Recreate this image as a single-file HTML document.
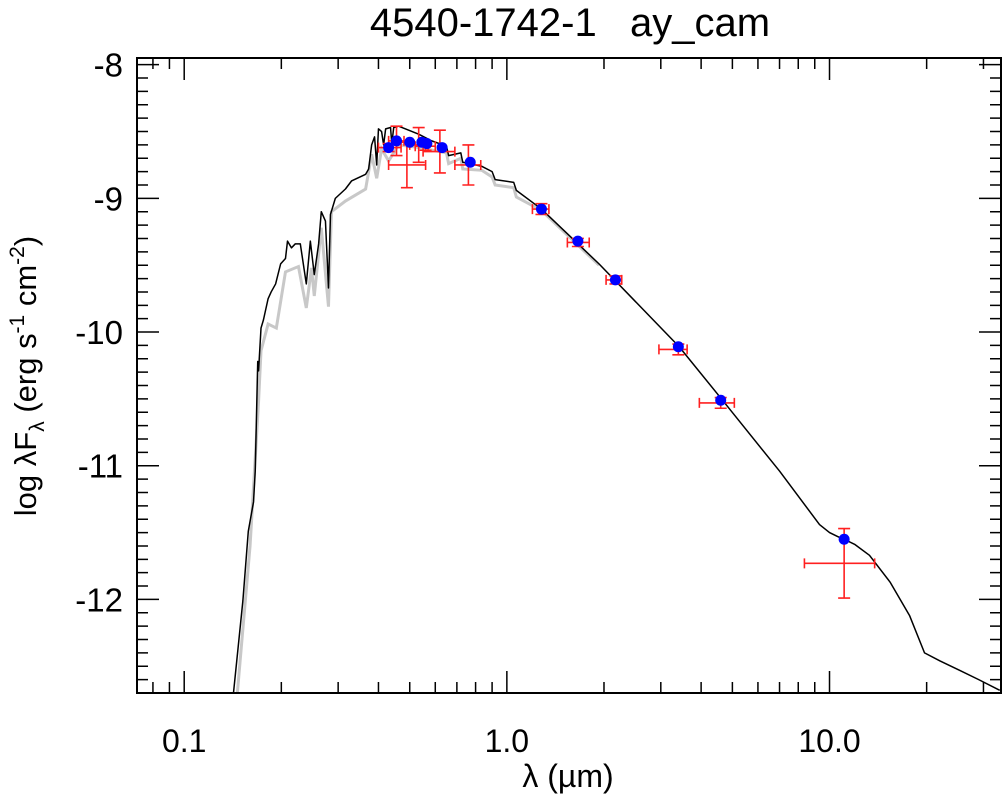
<!DOCTYPE html>
<html><head><meta charset="utf-8"><style>
html,body{margin:0;padding:0;background:#fff;}
svg{display:block;font-family:"Liberation Sans",Arial,sans-serif;}
</style></head><body>
<svg id="chart" width="1006" height="801" viewBox="0 0 1006 801">
<text x="570" y="36" font-size="40" text-anchor="middle" style="white-space:pre">4540-1742-1   ay_cam</text>
<text x="568" y="787" font-size="32" text-anchor="middle">λ (µm)</text>
<text transform="translate(36,376) rotate(-90)" font-size="31" text-anchor="middle">log λF<tspan font-size="21" dy="8">λ</tspan><tspan dy="-8"> (erg s</tspan><tspan font-size="21" dy="-12">-1</tspan><tspan dy="12"> cm</tspan><tspan font-size="21" dy="-12">-2</tspan><tspan dy="12">)</tspan></text>
<g id="plot"></g>
</svg>
<script>
const modelLam=[0.142,0.152,0.158,0.164,0.166,0.169,0.170,0.173,0.176,0.182,0.186,0.192,0.199,0.206,0.209,0.215,0.221,0.229,0.239,0.246,0.253,0.261,0.266,0.274,0.280,0.284,0.294,0.316,0.330,0.365,0.373,0.381,0.389,0.395,0.400,0.409,0.415,0.421,0.436,0.440,0.446,0.462,0.533,0.585,0.65,0.66,0.72,0.73,0.836,0.9,0.92,1.05,1.07,1.28,1.93,3.42,4.59,7.0,9.31,10.0,10.6,11.1,12.0,13.3,15.4,17.7,19.7,22.0,25.3,29.0,33.7];
const modelFlux=[-12.71,-12.01,-11.49,-11.27,-11.04,-10.22,-10.29,-9.97,-9.91,-9.75,-9.70,-9.64,-9.49,-9.45,-9.32,-9.37,-9.34,-9.34,-9.64,-9.32,-9.57,-9.34,-9.10,-9.17,-9.67,-9.12,-9.00,-8.93,-8.87,-8.82,-8.78,-8.60,-8.54,-8.75,-8.48,-8.50,-8.60,-8.48,-8.47,-8.59,-8.47,-8.46,-8.52,-8.57,-8.61,-8.68,-8.66,-8.73,-8.76,-8.80,-8.86,-8.88,-8.94,-9.08,-9.49,-10.11,-10.49,-11.04,-11.44,-11.50,-11.53,-11.55,-11.59,-11.67,-11.87,-12.12,-12.40,-12.46,-12.53,-12.60,-12.68];
const grayLam=[0.146,0.160,0.170,0.173,0.182,0.193,0.206,0.226,0.239,0.248,0.253,0.266,0.280,0.286,0.316,0.365,0.381,0.395,0.409,0.430,0.462,0.533,0.65,0.66,0.72,0.73,0.836,0.9,0.92,1.05,1.07,1.28,1.93];
const grayFlux=[-12.71,-11.6,-10.52,-10.14,-9.94,-9.97,-9.55,-9.51,-9.82,-9.52,-9.73,-9.22,-9.81,-9.10,-9.02,-8.93,-8.67,-8.85,-8.63,-8.72,-8.60,-8.62,-8.66,-8.74,-8.70,-8.78,-8.79,-8.84,-8.90,-8.92,-8.99,-9.09,-9.50];
const obsLam=[0.430,0.455,0.49,0.533,0.56,0.62,0.76,1.28,1.66,2.17,3.4,4.6,11.1];
const obsFlux=[-8.62,-8.57,-8.75,-8.60,-8.61,-8.65,-8.75,-9.08,-9.33,-9.61,-10.13,-10.53,-11.73];
const obsLamLo=[0.40,0.43,0.43,0.50,0.52,0.55,0.69,1.20,1.54,2.03,2.96,3.95,8.36];
const obsLamHi=[0.47,0.48,0.56,0.57,0.60,0.69,0.83,1.35,1.80,2.27,3.62,5.07,13.8];
const obsFluxErr=[0.03,0.11,0.17,0.13,0.03,0.16,0.15,0.04,0.03,0.03,0.04,0.04,0.26];
const synLam=[0.43,0.455,0.50,0.545,0.565,0.63,0.77,1.28,1.66,2.17,3.4,4.6,11.1];
const synFlux=[-8.62,-8.57,-8.58,-8.58,-8.59,-8.62,-8.73,-9.08,-9.32,-9.61,-10.11,-10.51,-11.55];
const yTicks=[-8,-9,-10,-11,-12];
const yTickLabels=["-8","-9","-10","-11","-12"];
const xTicks=[0.1,1,10];
const xTickLabels=["0.1","1.0","10.0"];

const L=137,R=1001,T=58,B=693;
const xMin=0.0714,xMax=34.0,yMin=-12.70,yMax=-7.95;
const X=v=>L+(Math.log10(v)-Math.log10(xMin))/(Math.log10(xMax)-Math.log10(xMin))*(R-L);
const Y=v=>B-(v-yMin)/(yMax-yMin)*(B-T);
const NS="http://www.w3.org/2000/svg";
const g=document.getElementById('plot');
function mk(t,a){const e=document.createElementNS(NS,t);for(const k in a)e.setAttribute(k,a[k]);g.appendChild(e);return e;}

const cp=document.createElementNS(NS,'clipPath');cp.setAttribute('id','clip');
const cr=document.createElementNS(NS,'rect');cr.setAttribute('x',L);cr.setAttribute('y',T);cr.setAttribute('width',R-L);cr.setAttribute('height',B-T);
cp.appendChild(cr);g.appendChild(cp);

const gp=mk('polyline',{points:grayLam.map((v,i)=>X(v)+','+Y(grayFlux[i])).join(' '),fill:'none',stroke:'#c8c8c8','stroke-width':3,'clip-path':'url(#clip)'});


const bp=mk('polyline',{points:modelLam.map((v,i)=>X(v)+','+Y(modelFlux[i])).join(' '),fill:'none',stroke:'#000','stroke-width':1.5,'stroke-linejoin':'round','clip-path':'url(#clip)'});



obsLam.forEach((v,i)=>{
  const x=X(v),y=Y(obsFlux[i]),x1=X(obsLamLo[i]),x2=X(obsLamHi[i]),y1=Y(obsFlux[i]+obsFluxErr[i]),y2=Y(obsFlux[i]-obsFluxErr[i]);
  const d=`M${x1},${y}H${x2}M${x1},${y-5}V${y+5}M${x2},${y-5}V${y+5}M${x},${y1}V${y2}M${x-6},${y1}H${x+6}M${x-6},${y2}H${x+6}`;
  const e=mk('path',{d:d,stroke:'#ff2020','stroke-width':1.6,fill:'none'});
  
  
});
synLam.forEach((v,i)=>{
  const c=mk('circle',{cx:X(v),cy:Y(synFlux[i]),r:5.5,fill:'#0000ff'});
  
  
});

const fr=mk('rect',{x:L,y:T,width:R-L,height:B-T,fill:'none',stroke:'#000','stroke-width':2});



let td='';
for(let k=-13;k<=-8;k++){for(let m=0;m<10;m++){const v=k+m/10;if(v<yMin||v>yMax)continue;const y=Y(v);const len=m===0?22:11;td+=`M${L},${y}h${len}M${R},${y}h${-len}`;}}
for(let e=-2;e<=1;e++){for(let m=1;m<10;m++){const v=m*Math.pow(10,e);if(v<xMin||v>xMax)continue;const x=X(v);const len=m===1?22:11;td+=`M${x},${B}v${-len}M${x},${T}v${len}`;}}
const tk=mk('path',{d:td,stroke:'#000','stroke-width':1.5,fill:'none'});



yTicks.forEach((v,i)=>{
  const t=mk('text',{x:123,y:Y(v)+12,'font-size':33,'text-anchor':'end'});t.textContent=yTickLabels[i];
  
  
});
xTicks.forEach((v,i)=>{
  const t=mk('text',{x:X(v),y:752,'font-size':32,'text-anchor':'middle'});t.textContent=xTickLabels[i];
  
  
});
</script>
</body></html>
